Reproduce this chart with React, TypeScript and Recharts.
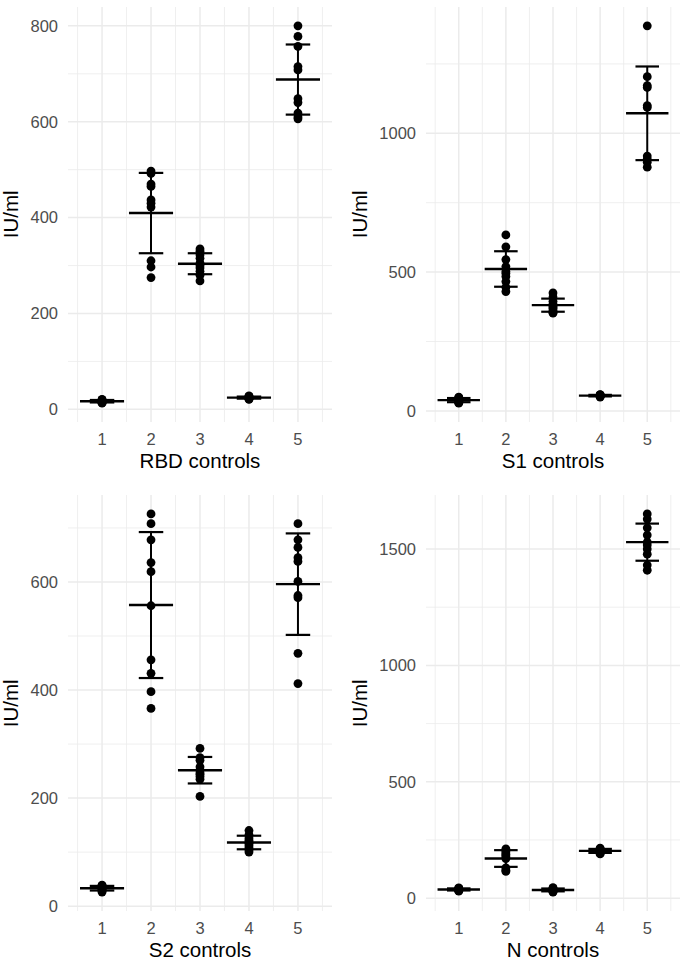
import React from "react";
import { CartesianGrid, ComposedChart, ReferenceLine, Scatter, XAxis, YAxis } from "recharts";

const groups = [1, 2, 3, 4, 5];
const xTicks = [1, 2, 3, 4, 5];
const xMinor = [0.5, 1.5, 2.5, 3.5, 4.5, 5.5];

// IU/ml readings, one list per control group
const rbdValues = [
  [13, 14, 15, 16, 17, 17, 18, 19, 20, 21],
  [497, 492, 470, 465, 437, 430, 422, 310, 297, 275],
  [335, 330, 322, 315, 305, 300, 295, 288, 280, 268],
  [21, 22, 23, 24, 24, 25, 25, 26, 27, 28],
  [800, 778, 757, 715, 708, 648, 640, 618, 610, 606],
];
const s1Values = [
  [28, 30, 33, 35, 38, 40, 42, 45, 48, 50],
  [634, 591, 545, 520, 502, 495, 484, 466, 445, 430],
  [425, 410, 395, 385, 380, 375, 370, 362, 355, 352],
  [50, 52, 53, 54, 55, 56, 56, 57, 58, 59],
  [1387, 1204, 1172, 1165, 1100, 1093, 918, 907, 896, 878],
];
const s2Values = [
  [26, 28, 30, 32, 33, 34, 35, 37, 38, 39],
  [726, 708, 678, 636, 619, 556, 456, 431, 397, 366],
  [292, 275, 270, 258, 252, 247, 244, 240, 235, 203],
  [140, 132, 126, 122, 118, 116, 112, 108, 104, 100],
  [708, 678, 664, 645, 638, 601, 575, 571, 468, 412],
];
const nValues = [
  [30, 32, 34, 36, 37, 38, 40, 41, 42, 44],
  [212, 205, 198, 190, 185, 178, 170, 130, 120, 115],
  [26, 28, 30, 33, 35, 36, 38, 40, 42, 45],
  [190, 192, 195, 200, 203, 205, 208, 210, 212, 215],
  [1651, 1629, 1591, 1560, 1530, 1517, 1500, 1478, 1431, 1409],
];

const rbdTicks = [0, 200, 400, 600, 800];
const rbdMinor = [100, 300, 500, 700];
const s1Ticks = [0, 500, 1000];
const s1Minor = [250, 750, 1250];
const s2Ticks = [0, 200, 400, 600];
const s2Minor = [100, 300, 500, 700];
const nTicks = [0, 500, 1000, 1500];
const nMinor = [250, 750, 1250];

const FONT = '"Liberation Sans", Arial, Helvetica, sans-serif';

const mean = (a: number[]) => a.reduce((s, v) => s + v, 0) / a.length;
const sd = (a: number[]) => {
  const m = mean(a);
  return Math.sqrt(a.reduce((s, v) => s + (v - m) ** 2, 0) / (a.length - 1));
};

interface PanelProps {
  values: number[][];
  title: string;
  yTicks: number[];
  yMinor: number[];
  left: number;
  top: number;
  height: number;
  axisWidth: number;
  marginTop: number;
  marginRight: number;
  xAxisHeight: number;
  yTitleX: number;
}

function Panel(p: PanelProps) {
  const points = p.values.flatMap((vals, i) => vals.map((v) => ({ x: groups[i], y: v })));
  const stats = p.values.map((vals, i) => ({ g: groups[i], m: mean(vals), s: sd(vals) }));
  const all = [...p.values.flat(), ...stats.flatMap((st) => [st.m - st.s, st.m + st.s])];
  const lo = Math.min(...all);
  const hi = Math.max(...all);
  const pad = (hi - lo) * 0.05;
  const xlo = groups[0] - 0.45;
  const xhi = groups[groups.length - 1] + 0.45;
  const xpad = (xhi - xlo) * 0.05;

  const width = 343;
  const plotTop = p.marginTop;
  const plotBottom = p.height - p.xAxisHeight;
  const plotLeft = p.axisWidth;
  const plotRight = width - p.marginRight;

  return (
    <div style={{ position: "absolute", left: p.left, top: p.top, width, height: p.height }}>
      <ComposedChart
        width={width}
        height={p.height}
        data={points}
        margin={{ top: p.marginTop, right: p.marginRight, bottom: 0, left: 0 }}
      >
        <CartesianGrid
          stroke="#EBEBEB"
          strokeWidth={0.8}
          horizontalValues={p.yMinor}
          verticalValues={xMinor}
        />
        <CartesianGrid
          stroke="#EBEBEB"
          strokeWidth={1.5}
          horizontalValues={p.yTicks}
          verticalValues={xTicks}
        />
        <XAxis
          type="number"
          dataKey="x"
          domain={[xlo - xpad, xhi + xpad]}
          ticks={xTicks}
          height={p.xAxisHeight}
          axisLine={false}
          tickLine={false}
          tickSize={0}
          tickMargin={11}
          tick={{ fill: "#4D4D4D", fontSize: 16.5, fontFamily: FONT }}
          allowDataOverflow
        />
        <YAxis
          type="number"
          dataKey="y"
          domain={[lo - pad, hi + pad]}
          ticks={p.yTicks}
          width={p.axisWidth}
          axisLine={false}
          tickLine={false}
          tickSize={0}
          tickMargin={10}
          tick={{ fill: "#4D4D4D", fontSize: 16.5, fontFamily: FONT }}
          allowDataOverflow
        />
        <Scatter
          data={points}
          dataKey="y"
          isAnimationActive={false}
          shape={(s: any) => <circle cx={s.cx} cy={s.cy} r={4.4} fill="#000" />}
        />
        {stats.map((st) => (
          <ReferenceLine
            key={"v" + st.g}
            segment={[
              { x: st.g, y: st.m - st.s },
              { x: st.g, y: st.m + st.s },
            ]}
            stroke="#000"
            strokeWidth={2}
            ifOverflow="visible"
          />
        ))}
        {stats.flatMap((st) =>
          [st.m - st.s, st.m + st.s].map((yv, k) => (
            <ReferenceLine
              key={"c" + st.g + "-" + k}
              segment={[
                { x: st.g - 0.25, y: yv },
                { x: st.g + 0.25, y: yv },
              ]}
              stroke="#000"
              strokeWidth={2.2}
              ifOverflow="visible"
            />
          ))
        )}
        {stats.map((st) => (
          <ReferenceLine
            key={"m" + st.g}
            segment={[
              { x: st.g - 0.45, y: st.m },
              { x: st.g + 0.45, y: st.m },
            ]}
            stroke="#000"
            strokeWidth={2.4}
            ifOverflow="visible"
          />
        ))}
      </ComposedChart>
      <div
        style={{
          position: "absolute",
          left: plotLeft,
          width: plotRight - plotLeft,
          top: plotBottom + 46 - 17.4,
          textAlign: "center",
          fontFamily: FONT,
          fontSize: 20.5,
          lineHeight: "20.5px",
          color: "#000",
          whiteSpace: "nowrap",
        }}
      >
        {p.title}
      </div>
      <div
        style={{
          position: "absolute",
          left: p.yTitleX - 100,
          top: (plotTop + plotBottom) / 2 - 10.25,
          width: 200,
          height: 20.5,
          textAlign: "center",
          fontFamily: FONT,
          fontSize: 20.5,
          lineHeight: "20.5px",
          color: "#000",
          transform: "rotate(-90deg)",
          transformOrigin: "100px 10.25px",
          whiteSpace: "nowrap",
        }}
      >
        IU/ml
      </div>
    </div>
  );
}

export default function App() {
  return (
    <div style={{ position: "absolute", left: 0, top: 0, width: 686, height: 961, background: "#fff" }}>
      <Panel values={rbdValues} title="RBD controls" yTicks={rbdTicks} yMinor={rbdMinor}
        left={0} top={0} height={480} axisWidth={68} marginTop={7} marginRight={11} xAxisHeight={58} yTitleX={11} />
      <Panel values={s1Values} title="S1 controls" yTicks={s1Ticks} yMinor={s1Minor}
        left={343} top={0} height={480} axisWidth={83} marginTop={7} marginRight={6} xAxisHeight={58} yTitleX={17} />
      <Panel values={s2Values} title="S2 controls" yTicks={s2Ticks} yMinor={s2Minor}
        left={0} top={480} height={481} axisWidth={68} marginTop={15} marginRight={11} xAxisHeight={50} yTitleX={11} />
      <Panel values={nValues} title="N controls" yTicks={nTicks} yMinor={nMinor}
        left={343} top={480} height={481} axisWidth={83} marginTop={15} marginRight={6} xAxisHeight={50} yTitleX={17} />
    </div>
  );
}
